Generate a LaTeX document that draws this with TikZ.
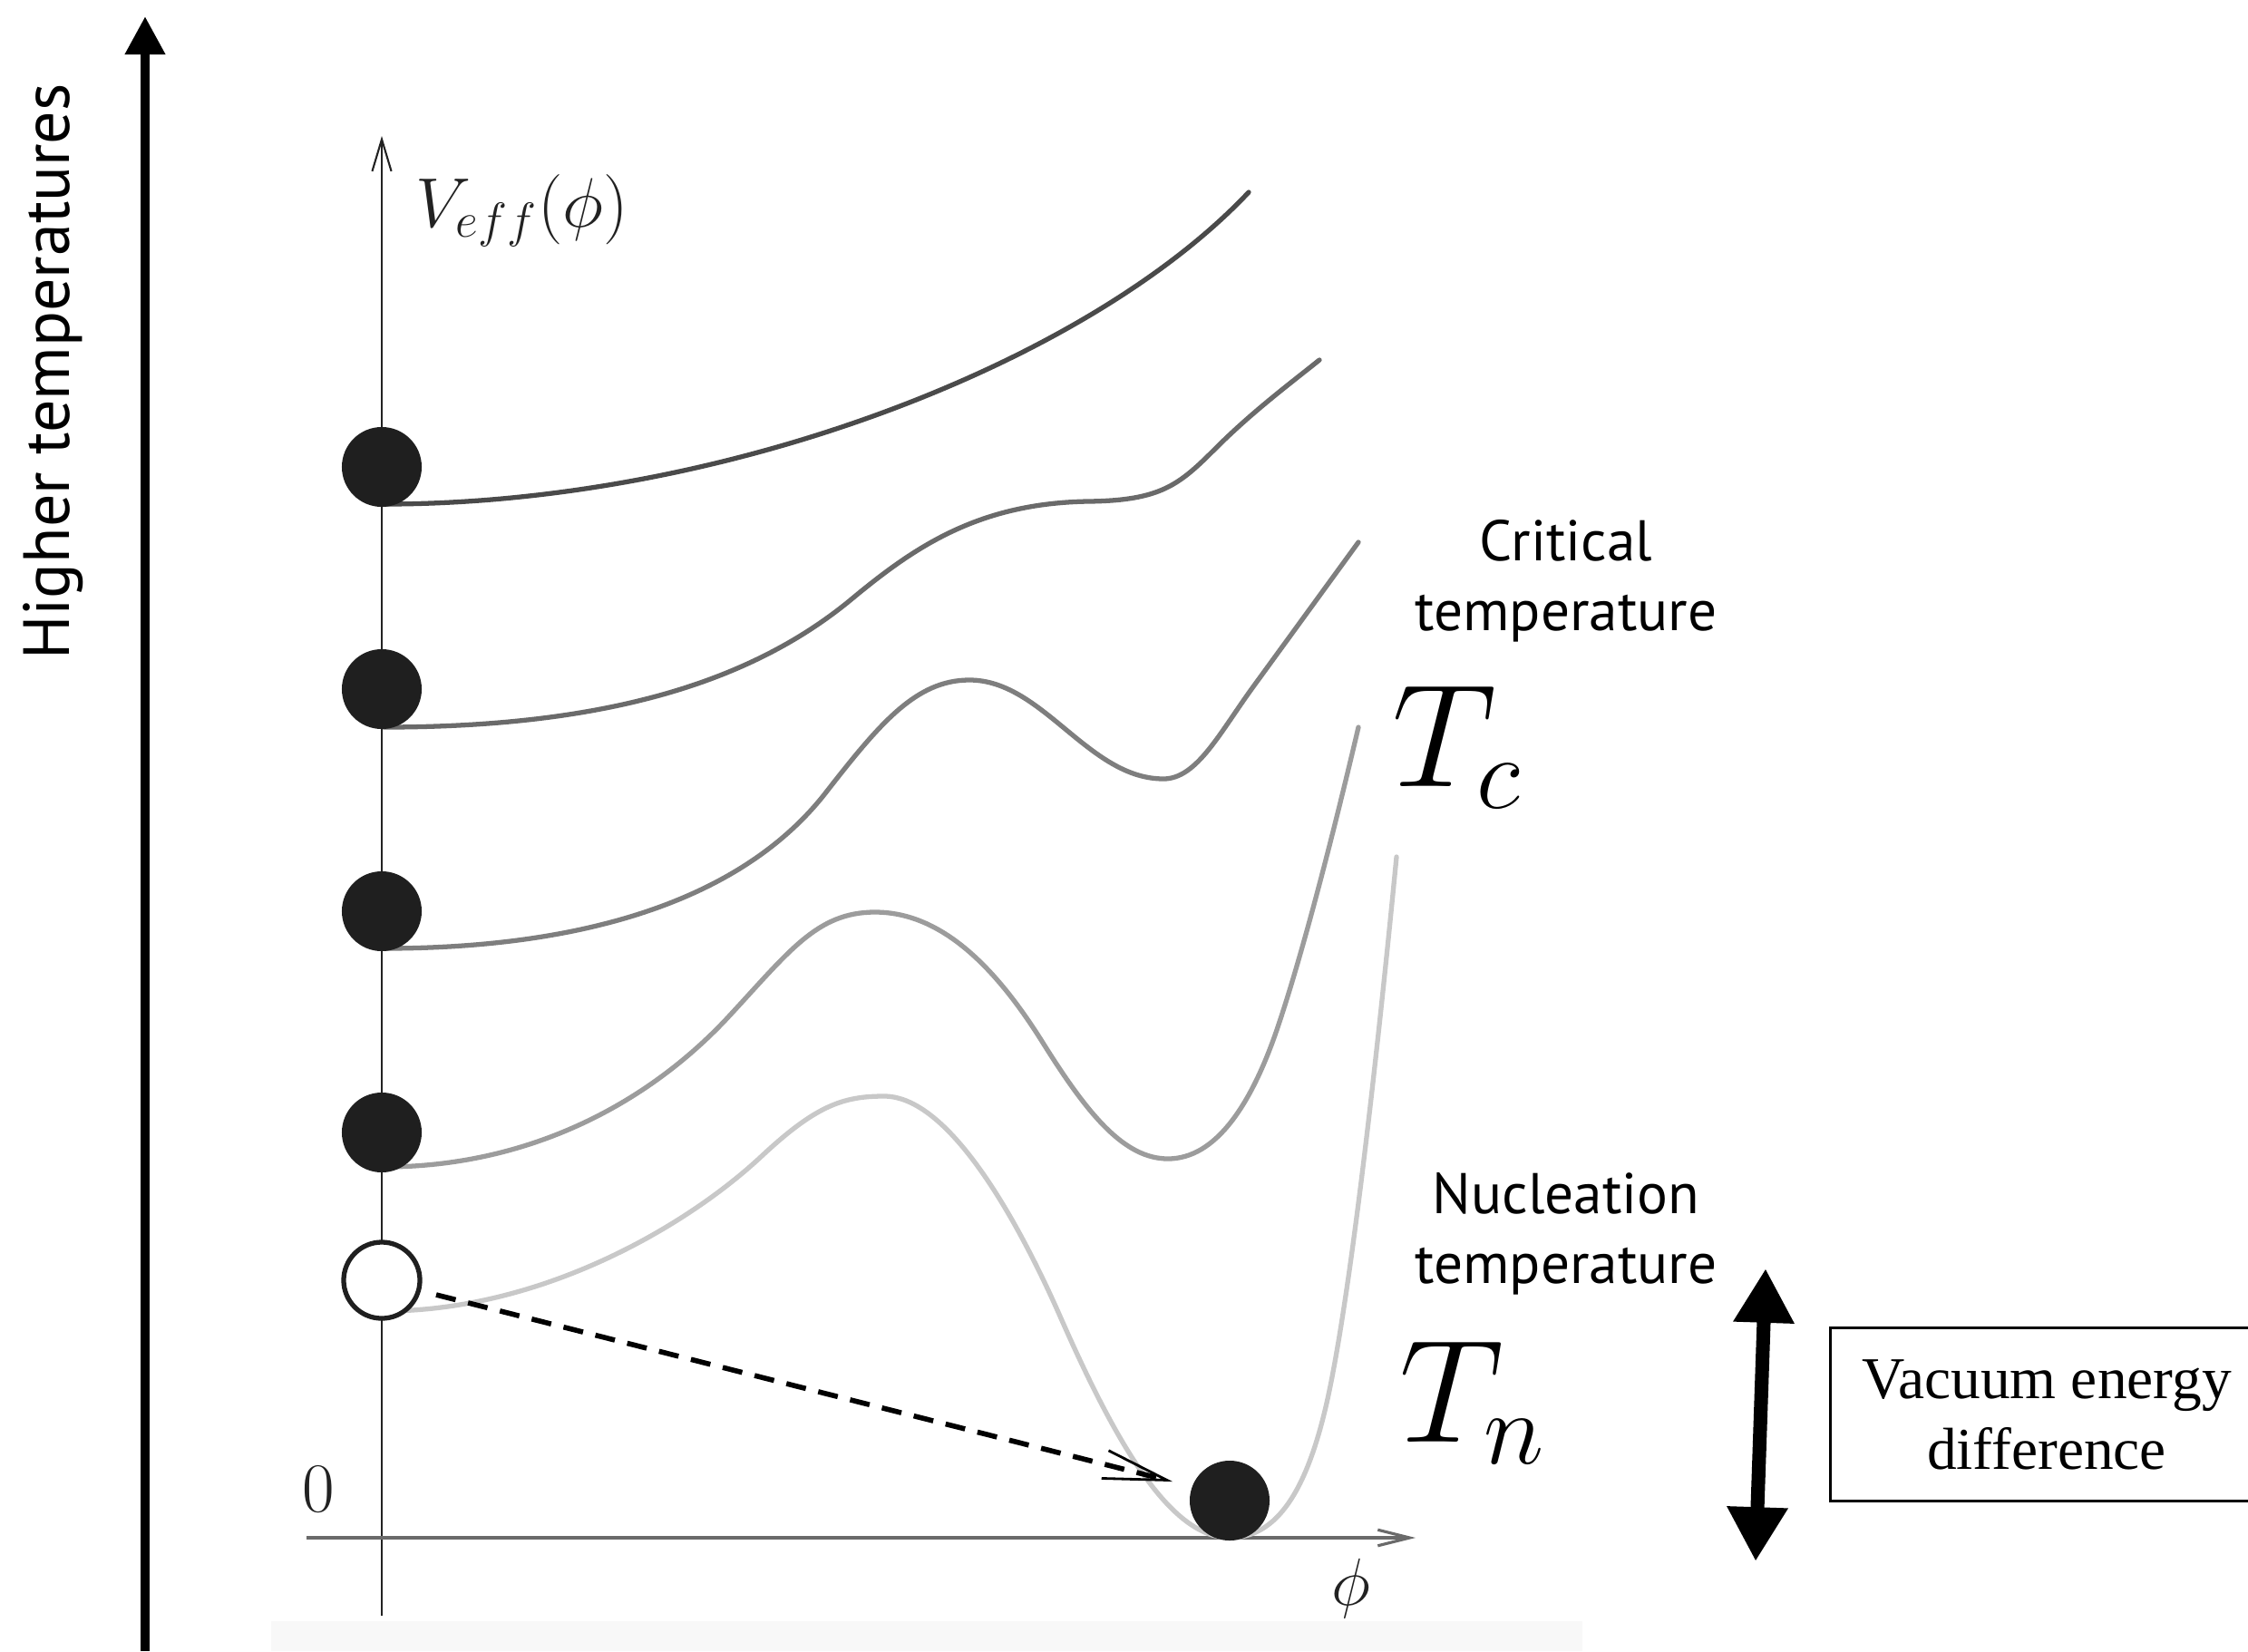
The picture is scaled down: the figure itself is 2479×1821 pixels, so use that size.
\RequirePackage{fix-cm}
\documentclass[tikz,border=0pt]{standalone}
\usepackage{fontspec}
\newfontfamily\labfont{PT Sans}
\newfontfamily\boxfont{Liberation Serif}
\usetikzlibrary{arrows.meta}
\definecolor{ballc}{HTML}{1F1F1F}
\definecolor{cA}{HTML}{4A4A4A}
\definecolor{cB}{HTML}{6A6A6A}
\definecolor{cC}{HTML}{7E7E7E}
\definecolor{cD}{HTML}{9C9C9C}
\definecolor{cE}{HTML}{C8C8C8}
\definecolor{axisc}{HTML}{222222}
\definecolor{phic}{HTML}{6A6A6A}
\definecolor{bandc}{HTML}{F8F8F8}
\begin{document}
\begin{tikzpicture}[x=0.01cm,y=-0.01cm,
  curve/.style={line width=1.5pt, line cap=round},
  ball/.style={circle, fill=ballc, minimum size=0.88cm, inner sep=0pt},
  openball/.style={circle, draw=ballc, line width=1.5pt, fill=white, minimum size=0.84cm, inner sep=0pt},
  lab/.style={font=\labfont\fontsize{18}{22}\selectfont, inner sep=0pt, anchor=base},
  bigmath/.style={font=\fontsize{46}{50}\selectfont, inner sep=0pt, anchor=base west},
  axlab/.style={font=\fontsize{22}{26}\selectfont, text=axisc, inner sep=0pt}]
\useasboundingbox (0,0) rectangle (2479,1821);
\clip (0,0) rectangle (2479,1821);
\fill[white] (0,0) rectangle (2479,1821);
\fill[bandc] (299,1788) rectangle (1745,1821);

% axes
\coordinate (vbot) at (421,1782);
\coordinate (vtop) at (421,150);
\draw[axisc, line width=0.6pt, -{Straight Barb[length=10pt,width=6pt]}] (vbot) -- (vtop);
\coordinate (pleft) at (338,1696);
\coordinate (pright) at (1561,1696);
\draw[phic, line width=0.9pt, -{Straight Barb[length=10pt,width=5pt]}] (pleft) -- (pright);

% potential curves
\draw[curve, cA] (423,556) .. controls (800,556) and (1200,400) .. (1377,212);
\draw[curve, cB] (423,802) .. controls (650,802) and (820,760) .. (940,660)
  .. controls (1010,602) and (1080,555) .. (1200,553)
  .. controls (1280,552) and (1300,535) .. (1340,495)
  .. controls (1380,455) and (1420,425) .. (1455,397);
\draw[curve, cC] (423,1046) .. controls (650,1046) and (820,990) .. (910,875)
  .. controls (970,798) and (1010,750) .. (1069,750)
  .. controls (1150,750) and (1200,859) .. (1283,859)
  .. controls (1320,859) and (1345,808) .. (1383,756)
  -- (1498,598);
\draw[curve, cD] (423,1287) .. controls (580,1287) and (710,1220) .. (800,1125)
  .. controls (870,1050) and (900,1006) .. (965,1006)
  .. controls (1040,1006) and (1100,1070) .. (1150,1150)
  .. controls (1200,1230) and (1240,1278) .. (1288,1278)
  .. controls (1340,1278) and (1380,1220) .. (1410,1130)
  .. controls (1440,1040) and (1475,900) .. (1498,802);
\draw[curve, cE] (423,1446) .. controls (600,1446) and (760,1350) .. (840,1275)
  .. controls (900,1219) and (930,1209) .. (975,1209)
  .. controls (1045,1209) and (1120,1340) .. (1170,1454)
  .. controls (1230,1590) and (1290,1696) .. (1356,1696)
  .. controls (1410,1696) and (1440,1640) .. (1460,1560)
  .. controls (1490,1440) and (1525,1100) .. (1540,945);

% balls
\node[ball] (b1) at (421,515) {};
\node[ball] (b2) at (421,760) {};
\node[ball] (b3) at (421,1005) {};
\node[ball] (b4) at (421,1249) {};
\node[openball] (b5) at (421,1412) {};
\node[ball] (bf) at (1356,1655) {};

% tunnelling arrow
\coordinate (ds) at (481,1428);
\coordinate (de) at (1293,1634);
\draw[black, line width=1.6pt, dash pattern=on 6.3pt off 4pt, -{Straight Barb[length=20pt,width=9pt,line width=0.8pt]}] (ds) -- (de);

% axis labels
\node[axlab, anchor=base west] (vlab) at (458,250) {$V_{eff}(\phi)$};
\node[axlab] (zero) at (351,1643) {$0$};
\node[axlab, font=\fontsize{21}{25}\selectfont] (philab) at (1490,1752) {$\phi$};

% temperature labels
\node[lab] (crit1) at (1727,618) {Critical};
\node[lab] (crit2) at (1727,695) {temperature};
\node[bigmath] (tc) at (1535,867) {$T_c$};
\node[lab] (nuc1) at (1727,1338) {Nucleation};
\node[lab] (nuc2) at (1727,1415) {temperature};
\node[bigmath] (tn) at (1543,1590) {$T_n$};

% big temperature arrow
\coordinate (tb) at (160,1821);
\coordinate (tt) at (160,18);
\draw[line width=2.85pt, -{Triangle[length=12pt,width=12pt]}] (tb) -- (tt);
\node[font=\labfont\fontsize{20.5}{24}\selectfont, rotate=90, anchor=base, inner sep=0pt] (htemp) at (77,410) {Higher temperatures};

% vacuum energy difference
\coordinate (dt) at (1947,1399);
\coordinate (db) at (1936,1722);
\draw[line width=4.3pt, {Triangle[length=17pt,width=18pt]}-{Triangle[length=17pt,width=18pt]}] (dt) -- (db);
\node[draw, line width=0.85pt, minimum width=4.76cm, minimum height=1.91cm, align=center, inner sep=0pt, font=\boxfont\fontsize{18.6}{22.2}\selectfont] (vac) at (2257,1560) {Vacuum energy\\difference};
\end{tikzpicture}
\end{document}
